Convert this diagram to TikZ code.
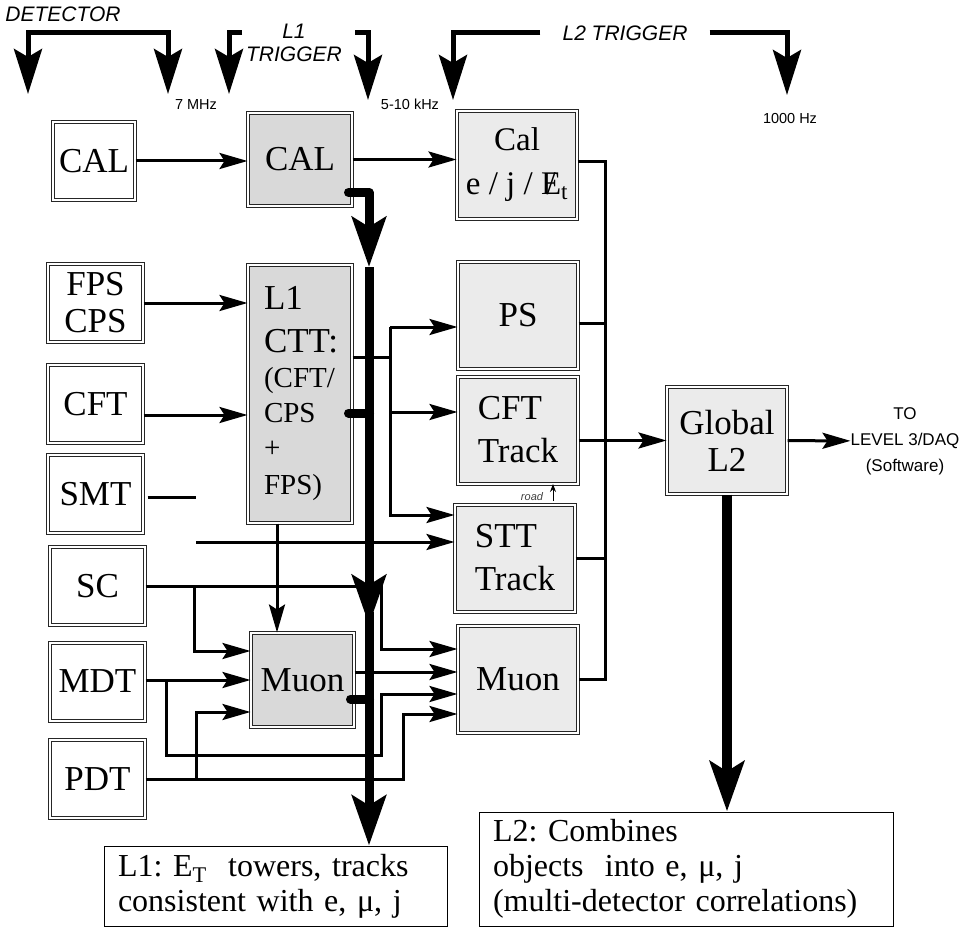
\documentclass[tikz,border=0pt]{standalone}
\usepackage{fontspec}
\setmainfont{Liberation Serif}
\setsansfont{Liberation Sans}
\usetikzlibrary{positioning, arrows.meta}
\frenchspacing

\tikzset{
  bigtip/.tip={Stealth[length=45pt,width=28pt,inset=8pt]},
  bustip/.tip={Stealth[length=50pt,width=34pt,inset=10pt]}
}

\begin{document}
\begin{tikzpicture}[x=1pt, y=-1pt, >={Stealth[length=28pt,width=16pt,inset=5pt]},
    box/.style={draw=black!85, line width=1pt, double=white, double distance=2pt,
      align=center, inner sep=2pt, font=\fontsize{35}{37}\selectfont},
    detbox/.style={box, fill=white, minimum width=95pt, minimum height=78pt},
    lonebox/.style={box, fill=gray!30, minimum width=104pt, minimum height=94pt},
    ltwobox/.style={box, fill=gray!16, minimum width=120pt, minimum height=107pt},
    notebox/.style={draw, line width=1pt, align=left, inner xsep=14pt,
      font=\fontsize{32}{35}\selectfont},
    hdr/.style={font=\sffamily\itshape\fontsize{21}{23}\selectfont, inner sep=0pt, align=center},
    freq/.style={font=\sffamily\fontsize{14.5}{16}\selectfont, inner sep=0pt},
    conn/.style={line width=3pt},
    bracket/.style={line width=5pt},
    busline/.style={line width=9pt},
    blob/.style={line width=9pt, line cap=round, line join=round}]
    \useasboundingbox (0,0) rectangle (972,939);

    % Headers and rate labels
    \node[hdr] (dethdr) at (63,14) {DETECTOR};
    \node[hdr] (l1hdr) at (294,43) {L1\\TRIGGER};
    \node[hdr] (l2hdr) at (625,33) {L2 TRIGGER};
    \node[freq] (f7) at (196,105) {7 MHz};
    \node[freq] (f510) at (410,104) {5-10 kHz};
    \node[freq] (f1000) at (790,119) {1000 Hz};

    \coordinate (detl) at (28,94);
    \coordinate (detr) at (168,94);
    \coordinate (l1l) at (229,94);
    \coordinate (l1r) at (368,100);
    \coordinate (l2l) at (453,100);
    \coordinate (l2r) at (787,95);
    \draw[bracket, bigtip-bigtip] (detl) -- ++(0,-61) -| (detr);
    \draw[bracket, -bigtip] (l1l) ++(13,-61) -| (l1l);
    \draw[bracket, -bigtip] (l1r) ++(-13,-67) -| (l1r);
    \draw[bracket, -bigtip] ([xshift=-22pt]l2hdr.west) -| (l2l);
    \draw[bracket, -bigtip] ([xshift=22pt]l2hdr.east) -| (l2r);

    % Detector column
    \node[detbox, minimum width=82pt] (detcal) at (94,161) {CAL};
    \node[detbox] (fps) at (95.5,303) {FPS\\CPS};
    \node[detbox] (cft) at (95.5,404) {CFT};
    \node[detbox] (smt) at (95.5,494) {SMT};
    \node[detbox] (sc) at (97.5,586) {SC};
    \node[detbox] (mdt) at (97.5,681.5) {MDT};
    \node[detbox] (pdt) at (97.5,779) {PDT};

    % L1 column
    \node[lonebox, minimum height=93pt] (l1cal) at (300,159.5) {CAL};
    \node[lonebox, minimum height=258pt, text width=72pt, align=left] (ctt) at (300,394)
      {L1\\[6pt]CTT:\\\fontsize{29}{35}\selectfont (CFT/\\CPS\\+\\FPS)};
    \node[lonebox, minimum width=103pt] (l1muon) at (302.5,680) {Muon};

    % L2 column
    \node[ltwobox, font=\fontsize{33}{44}\selectfont] (l2cal) at (517,165)
      {Cal\\e / j / {\ooalign{E\cr\hidewidth/\hidewidth\cr}}\textsubscript{t}};
    \node[ltwobox] (l2ps) at (518,315.5) {PS};
    \node[ltwobox, align=left, font=\fontsize{35}{43}\selectfont] (l2cft) at (518,430) {CFT\\Track};
    \node[ltwobox, align=left, font=\fontsize{35}{43}\selectfont] (l2stt) at (515,558) {STT\\Track};
    \node[ltwobox] (l2muon) at (518,679.5) {Muon};
    \node[ltwobox] (glob) at (727,440.5) {Global\\L2};
    \node[font=\sffamily\fontsize{17}{26}\selectfont, align=center, inner sep=0pt] (daq) at (905,441)
      {TO\\LEVEL 3/DAQ\\(Software)};

    % Result boxes
    \node[notebox, text width=315pt, minimum height=80pt] (l1note) at (275.5,886)
      {L1: E\textsubscript{T}\ \ towers, tracks\\consistent with e, μ, j};
    \node[notebox, text width=386pt, minimum height=114pt] (l2note) at (686,869)
      {L2: Combines\\objects\ \ into e, μ, j\\(multi-detector correlations)};

    % Helper points
    \coordinate (bus) at (605,0);
    \coordinate (ctbr) at (390,327);
    \coordinate (ctbot) at (390,515);
    \coordinate (cftin) at (390,412);
    \coordinate (cftout) at ([yshift=-11pt]cft.east);
    \coordinate (smtend) at (196,497);
    \coordinate (sttfeed) at (196,542);
    \coordinate (cttdown) at ([xshift=-23pt]ctt.south);
    \coordinate (scx) at (381,649);
    \coordinate (scmx) at (194,651);
    \coordinate (mdtlow) at (166,755);
    \coordinate (mdtup) at (381,694);
    \coordinate (mu1out) at ([yshift=8pt]l1muon.east);
    \coordinate (pdtup) at (403,714);
    \coordinate (pdtmx) at (196,712);
    \coordinate (roadft) at (553,501);
    \coordinate (bustop) at (369,267);
    \coordinate (busmid) at (369,625);

    % Connectors
    \draw[conn, ->] (detcal.east) -- (detcal.east -| l1cal.west);
    \draw[conn, ->] (l1cal.east) -- (l1cal.east -| l2cal.west);
    \draw[conn, ->] (fps.east) -- (fps.east -| ctt.west);
    \draw[conn, ->] (cftout) -- (cftout -| ctt.west);
    \draw[conn] ([xshift=4pt,yshift=-3pt]smt.east) -- (smtend);
    \draw[conn, ->] (sttfeed) -- (sttfeed -| l2stt.west);
    \draw[conn, ->] (cttdown) -- (cttdown |- l1muon.north);
    \draw[conn] ([yshift=37pt]ctt.east) -| (ctbr);
    \draw[conn, ->] (ctbr) -- (ctbr -| l2ps.west);
    \draw[conn, ->] (cftin) -- (cftin -| l2cft.west);
    \draw[conn, ->] (ctbr) -- (ctbot) -- (ctbot -| l2stt.west);
    \draw[conn, ->] (sc.east) -| (scx) -- (scx -| l2muon.west);
    \draw[conn, ->] (sc.east -| scmx) -- (scmx) -- (scmx -| l1muon.west);
    \draw[conn, ->] (mdt.east |- l1muon.west) -- (l1muon.west);
    \draw[conn, ->] (mdtlow |- l1muon.west) -- (mdtlow) -| (mdtup) -- (mdtup -| l2muon.west);
    \draw[conn, ->] (mu1out) -- (mu1out -| l2muon.west);
    \draw[conn, ->] (pdt.east) -| (pdtup) -- (pdtup -| l2muon.west);
    \draw[conn, ->] (pdt.east -| pdtmx) -- (pdtmx) -- (pdtmx -| l1muon.west);
    \draw[conn] ([yshift=3pt]l2cal.east) -| (l2muon.east -| bus) -- (l2muon.east);
    \draw[conn] ([yshift=-8pt]l2ps.east) -- ([yshift=-8pt]l2ps.east -| bus);
    \draw[conn] (l2stt.east) -- (l2stt.east -| bus);
    \draw[conn, ->] (l2cft.east |- glob.west) -- (glob.west);
    \draw[conn, ->] (glob) -- (daq);

    % road
    \node[font=\sffamily\itshape\fontsize{11}{12}\selectfont, text=black!75, inner sep=0pt] (road) at (532,497) {road};
    \draw[line width=1pt, -{Stealth[length=8pt,width=6pt]}] (roadft) -- (roadft |- l2cft.south);

    % L1 and L2 decision paths
    \draw[blob, -bustip] ([xshift=-4pt,yshift=-33pt]l1cal.east) -| (bustop);
    \draw[busline, -bustip] (bustop) -- (busmid);
    \draw[busline, -bustip] ([yshift=13pt]busmid) -- (busmid |- l1note.north);
    \draw[blob] ([xshift=-4pt,yshift=-19pt]ctt.east) -- ++(21,0);
    \draw[blob] ([xshift=-4pt,yshift=-19pt]l1muon.east) -- ++(19,0);
    \draw[line width=10pt, -bustip] (glob.south) -- (glob.south |- l2note.north);
\end{tikzpicture}
\end{document}
